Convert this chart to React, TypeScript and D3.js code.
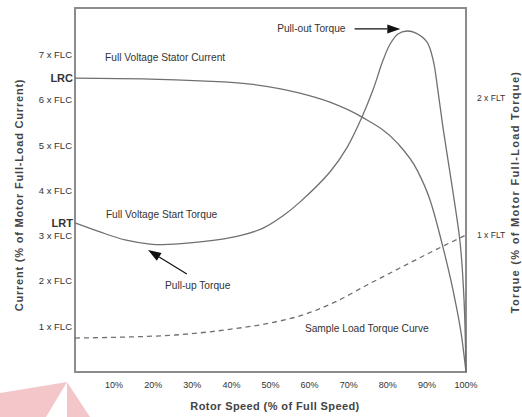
import { useEffect, useRef } from 'react'
import * as d3 from 'd3'

// rotor speed (% of full speed) vs stator current (x FLC)
const currentSpeed = [0, 19.2, 32.0, 44.8, 57.5, 65.2, 73.4, 82.4, 87.5, 90.8, 94.1, 97.2, 99.0, 100]
const currentValues = [6.49, 6.47, 6.43, 6.36, 6.16, 5.96, 5.63, 5.06, 4.46, 3.8, 2.76, 1.59, 0.71, 0]

// motor torque (x FLT)
const torqueSpeed = [0, 6.4, 12.8, 19.2, 22.5, 29.4, 36.3, 42.2, 48.1, 53.2, 57.5, 65.2, 69.6, 73.4, 76.2, 78.8, 80.6, 82.6, 84.9, 87.2, 90.0, 91.6, 92.8, 94.1, 95.4, 96.7, 98.5, 99.5, 100]
const torqueValues = [1.088, 1.022, 0.964, 0.934, 0.93, 0.942, 0.964, 0.995, 1.05, 1.14, 1.24, 1.46, 1.64, 1.861, 2.058, 2.277, 2.394, 2.467, 2.489, 2.474, 2.409, 2.277, 2.058, 1.788, 1.547, 1.307, 0.942, 0.526, 0]

// sample load torque (x FLT)
const loadSpeed = [0, 12.8, 25.6, 38.4, 51.2, 57.5, 66.0, 74.7, 83.1, 91.6, 100]
const loadValues = [0.248, 0.255, 0.27, 0.307, 0.365, 0.409, 0.504, 0.635, 0.759, 0.883, 1.0]

const xTicks = [10, 20, 30, 40, 50, 60, 70, 80, 90, 100]
const leftTicks = [1, 2, 3, 4, 5, 6, 7]
const rightTicks = [1, 2]
const LRC = 6.49
const LRT = 1.088

export default function App() {
  const ref = useRef<SVGSVGElement>(null)

  useEffect(() => {
    const width = 522
    const height = 417
    const margin = { top: 8, right: 55, bottom: 45, left: 75 }

    const svg = d3.select(ref.current)
    svg.selectAll('*').remove()

    const x = d3.scaleLinear().domain([0, 100]).range([margin.left, width - margin.right - 1])
    const yC = d3.scaleLinear().domain([0, 8.04]).range([height - margin.bottom, margin.top])
    const yT = d3.scaleLinear().domain([0, 2.657]).range([height - margin.bottom, margin.top])

    const font = '"Liberation Sans", Arial, sans-serif'
    const ink = '#333'
    const curveColor = '#707070'

    // watermark shapes bottom-left
    svg.append('polygon')
      .attr('points', '0,393 67,382 46,417 0,417')
      .attr('fill', '#f3c6ca')
    svg.append('polygon')
      .attr('points', '67,382 67,417 90,417')
      .attr('fill', '#f3c6ca')

    // frame
    svg.append('rect')
      .attr('x', x(0))
      .attr('y', yC(8.04))
      .attr('width', x(100) - x(0))
      .attr('height', yC(0) - yC(8.04))
      .attr('fill', 'none')
      .attr('stroke', '#8c8c8c')
      .attr('stroke-width', 2)

    const pts = (xs: number[], ys: number[]) => xs.map((d, i) => [d, ys[i]] as [number, number])

    const lineC = d3.line<[number, number]>().x(d => x(d[0])).y(d => yC(d[1])).curve(d3.curveMonotoneX)
    const lineT = d3.line<[number, number]>().x(d => x(d[0])).y(d => yT(d[1])).curve(d3.curveCatmullRom.alpha(0.5))
    const lineL = d3.line<[number, number]>().x(d => x(d[0])).y(d => yT(d[1])).curve(d3.curveMonotoneX)

    svg.append('path')
      .attr('d', lineC(pts(currentSpeed, currentValues)))
      .attr('fill', 'none')
      .attr('stroke', curveColor)
      .attr('stroke-width', 1.3)

    svg.append('path')
      .attr('d', lineT(pts(torqueSpeed, torqueValues)))
      .attr('fill', 'none')
      .attr('stroke', curveColor)
      .attr('stroke-width', 1.3)

    svg.append('path')
      .attr('d', lineL(pts(loadSpeed, loadValues)))
      .attr('fill', 'none')
      .attr('stroke', curveColor)
      .attr('stroke-width', 1.3)
      .attr('stroke-dasharray', '5,4')

    // x tick labels
    svg.selectAll('.xt')
      .data(xTicks)
      .join('text')
      .attr('x', d => x(d))
      .attr('y', 388)
      .attr('text-anchor', 'middle')
      .style('font-family', font)
      .style('font-size', '9px')
      .style('fill', ink)
      .text(d => `${d}%`)

    // left ticks
    svg.selectAll('.yl')
      .data(leftTicks)
      .join('text')
      .attr('x', x(0) - 3)
      .attr('y', d => yC(d) + 3)
      .attr('text-anchor', 'end')
      .style('font-family', font)
      .style('font-size', '9.5px')
      .style('fill', ink)
      .text(d => `${d} x FLC`)

    svg.append('text')
      .attr('x', x(0) - 2)
      .attr('y', yC(LRC) + 4)
      .attr('text-anchor', 'end')
      .style('font-family', font)
      .style('font-size', '11px')
      .style('font-weight', 'bold')
      .style('fill', ink)
      .text('LRC')

    svg.append('text')
      .attr('x', x(0) - 2)
      .attr('y', yT(LRT) + 4)
      .attr('text-anchor', 'end')
      .style('font-family', font)
      .style('font-size', '11px')
      .style('font-weight', 'bold')
      .style('fill', ink)
      .text('LRT')

    // right ticks
    svg.selectAll('.yr')
      .data(rightTicks)
      .join('text')
      .attr('x', x(100) + 11)
      .attr('y', d => yT(d) + 3)
      .style('font-family', font)
      .style('font-size', '8.5px')
      .style('fill', ink)
      .text(d => `${d} x FLT`)

    // axis titles
    svg.append('text')
      .attr('x', 275)
      .attr('y', 410)
      .attr('text-anchor', 'middle')
      .style('font-family', font)
      .style('font-size', '11px')
      .style('font-weight', 'bold')
      .style('letter-spacing', '0.4px')
      .style('fill', '#444')
      .text('Rotor Speed (% of Full Speed)')

    svg.append('text')
      .attr('transform', `translate(23,195) rotate(-90)`)
      .attr('text-anchor', 'middle')
      .style('font-family', font)
      .style('font-size', '11px')
      .style('font-weight', 'bold')
      .style('letter-spacing', '0.8px')
      .style('fill', '#444')
      .text('Current (% of Motor Full-Load Current)')

    svg.append('text')
      .attr('transform', `translate(519,192) rotate(-90)`)
      .attr('text-anchor', 'middle')
      .style('font-family', font)
      .style('font-size', '11px')
      .style('font-weight', 'bold')
      .style('letter-spacing', '1.3px')
      .style('fill', '#444')
      .text('Torque (% of Motor Full-Load Torque)')

    // annotations
    const note = (t: string, sx: number, v: number, scale: d3.ScaleLinear<number, number>) =>
      svg.append('text')
        .attr('x', x(sx))
        .attr('y', scale(v))
        .style('font-family', font)
        .style('font-size', '10.2px')
        .style('fill', ink)
        .text(t)

    note('Full Voltage Stator Current', 7.7, 6.87, yC)
    note('Pull-out Torque', 51.7, 2.48, yT)
    note('Full Voltage Start Torque', 7.9, 1.124, yT)
    note('Pull-up Torque', 23.0, 0.606, yT)
    note('Sample Load Torque Curve', 58.8, 0.292, yT)

    const arrow = (x1: number, y1: number, x2: number, y2: number) => {
      const ax1 = x(x1), ay1 = yT(y1), ax2 = x(x2), ay2 = yT(y2)
      const ang = Math.atan2(ay2 - ay1, ax2 - ax1)
      const len = 13, half = 4.5
      const bx = ax2 - len * Math.cos(ang), by = ay2 - len * Math.sin(ang)
      svg.append('line')
        .attr('x1', ax1).attr('y1', ay1).attr('x2', bx).attr('y2', by)
        .attr('stroke', '#111').attr('stroke-width', 1.2)
      svg.append('polygon')
        .attr('points', [
          [ax2, ay2],
          [bx + half * Math.sin(ang), by - half * Math.cos(ang)],
          [bx - half * Math.sin(ang), by + half * Math.cos(ang)],
        ].map(p => p.join(',')).join(' '))
        .attr('fill', '#111')
    }

    arrow(71.5, 2.504, 83.2, 2.504)
    arrow(28.6, 0.715, 18.7, 0.89)
  }, [])

  return (
    <svg ref={ref} width={522} height={417} style={{ position: 'absolute', left: 0, top: 0, background: '#fff' }} />
  )
}
